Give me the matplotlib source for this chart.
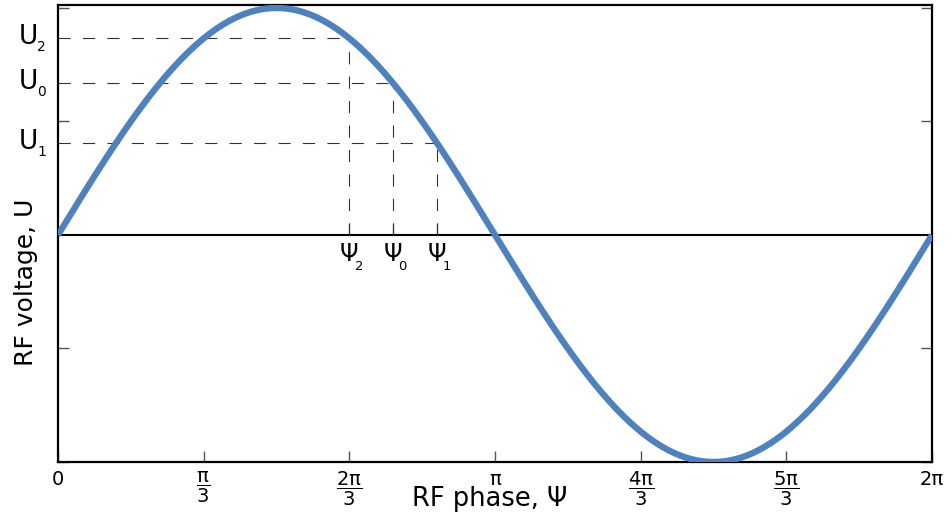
import numpy as np
import matplotlib
matplotlib.use("Agg")
import matplotlib.pyplot as plt
from matplotlib.transforms import blended_transform_factory

plt.rcParams['mathtext.fontset'] = 'dejavusans'
plt.rcParams['mathtext.default'] = 'regular'
plt.rcParams['font.family'] = ['DejaVu Sans']

# data
tick_positions = [0, np.pi/3, 2*np.pi/3, np.pi, 4*np.pi/3, 5*np.pi/3, 2*np.pi]
tick_labels = ["0", r"$\dfrac{π}{3}$", r"$\dfrac{2π}{3}$", "π",
               r"$\dfrac{4π}{3}$", r"$\dfrac{5π}{3}$", "2π"]
psi_names = ["2", "0", "1"]
psi_values = [2*np.pi/3, 2*np.pi/3 + np.pi/10, 2*np.pi/3 + np.pi/5]
ytick_values = [-1.0, -0.5, 0.5, 1.0]

phase = np.linspace(0, 2*np.pi, 600)
voltage = np.sin(phase)

fig = plt.figure(figsize=(9.53, 5.16), dpi=100)
ax = fig.add_axes([58/953, 1-462/516, 874/953, 457/516])

ax.plot(phase, voltage, color='#4f81bd', lw=4.6, solid_capstyle='butt', zorder=3, clip_on=True)
ax.axhline(0, color='black', lw=1.5, zorder=2)

ax.set_xlim(0, 2*np.pi)
ax.set_ylim(-1.0, 1.013)

tr = blended_transform_factory(ax.transAxes, ax.transData)
for name, psi in zip(psi_names, psi_values):
    u = np.sin(psi)
    ax.plot([0, psi], [u, u], color='#333333', lw=0.8, ls=(0, (11, 11)), zorder=1)
    ax.plot([psi, psi], [0, u], color='#333333', lw=0.8, ls=(0, (11, 11)), zorder=1)
    # small tick on zero line
    ax.plot([psi, psi], [0, 0.045], color='#333333', lw=0.9, zorder=2)
    ax.text(psi, -0.03, "Ψ", ha='center', va='top', fontsize=17)
    ax.text(psi + 0.04, -0.11, name, ha='left', va='top', fontsize=9.5)
    ax.text(-0.023, u + 0.005, "U", ha='right', va='center', fontsize=19, transform=tr)
    ax.text(-0.0235, u - 0.04, name, ha='left', va='center', fontsize=10, transform=tr)

ax.set_xticks(tick_positions)
ax.set_xticklabels(tick_labels, fontsize=14)
ax.set_yticks(ytick_values)
ax.set_yticklabels([])
ax.tick_params(axis='x', direction='in', length=8, width=1, color='#555555',
               top=False, pad=6)
ax.tick_params(axis='y', direction='in', length=8, width=1, color='#555555',
               left=True, right=True)

for s in ax.spines.values():
    s.set_linewidth(1.6)
    s.set_color('black')

ax.set_xlabel("RF phase, Ψ", fontsize=18.5)
ax.set_ylabel("RF voltage, U", fontsize=18)
ax.xaxis.set_label_coords(0.494, -0.052)
ax.yaxis.set_label_coords(-0.023, 0.394)

fig.savefig("out.png", dpi=100)
